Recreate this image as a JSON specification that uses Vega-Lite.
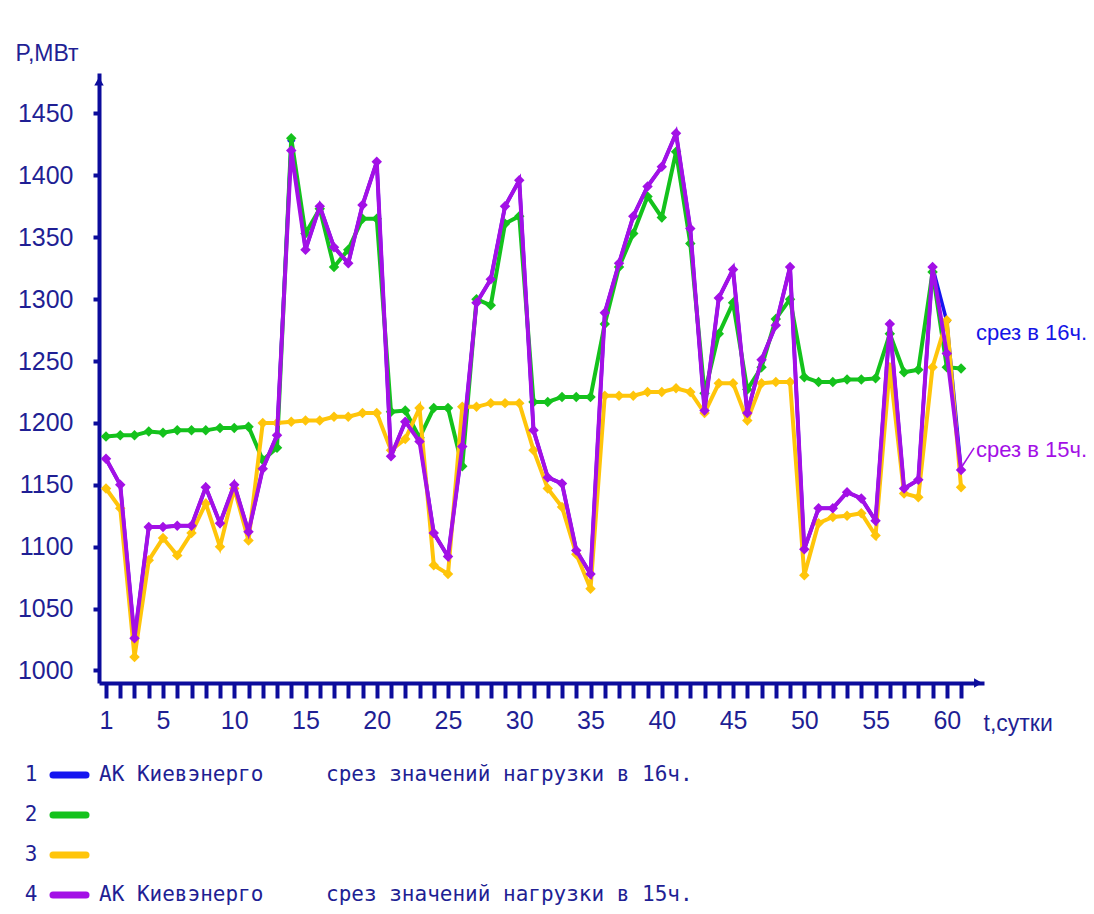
{
  "$schema": "https://vega.github.io/schema/vega-lite/v6.json",
  "background": "white",
  "padding": {"left": 15, "top": 42, "right": 0, "bottom": 0},
  "spacing": 20,
  "config": {
    "view": {"stroke": null},
    "font": "Liberation Sans",
    "axis": {
      "grid": false,
      "domainColor": "#0c0c9c",
      "domainWidth": 4,
      "tickColor": "#0c0c9c",
      "tickWidth": 4,
      "labelColor": "#1f1f94",
      "labelFont": "Liberation Sans",
      "labelFontSize": 25,
      "titleColor": "#1f1f94",
      "titleFont": "Liberation Sans",
      "titleFontSize": 23,
      "titleFontWeight": "normal"
    }
  },
  "datasets": {
    "load": [
      {"day": 1, "s1": 1171, "s2": 1189, "s3": 1147, "s4": 1171},
      {"day": 2, "s1": 1150, "s2": 1190, "s3": 1131, "s4": 1150},
      {"day": 3, "s1": 1026, "s2": 1190, "s3": 1011, "s4": 1026},
      {"day": 4, "s1": 1116, "s2": 1193, "s3": 1089, "s4": 1116},
      {"day": 5, "s1": 1116, "s2": 1192, "s3": 1107, "s4": 1116},
      {"day": 6, "s1": 1117, "s2": 1194, "s3": 1093, "s4": 1117},
      {"day": 7, "s1": 1117, "s2": 1194, "s3": 1111, "s4": 1117},
      {"day": 8, "s1": 1148, "s2": 1194, "s3": 1135, "s4": 1148},
      {"day": 9, "s1": 1119, "s2": 1196, "s3": 1100, "s4": 1119},
      {"day": 10, "s1": 1150, "s2": 1196, "s3": 1147, "s4": 1150},
      {"day": 11, "s1": 1112, "s2": 1197, "s3": 1105, "s4": 1112},
      {"day": 12, "s1": 1163, "s2": 1170, "s3": 1200, "s4": 1163},
      {"day": 13, "s1": 1190, "s2": 1180, "s3": 1200, "s4": 1190},
      {"day": 14, "s1": 1428, "s2": 1430, "s3": 1201, "s4": 1420},
      {"day": 15, "s1": 1340, "s2": 1353, "s3": 1202, "s4": 1340},
      {"day": 16, "s1": 1375, "s2": 1373, "s3": 1202, "s4": 1375},
      {"day": 17, "s1": 1342, "s2": 1326, "s3": 1205, "s4": 1342},
      {"day": 18, "s1": 1329, "s2": 1340, "s3": 1205, "s4": 1329},
      {"day": 19, "s1": 1376, "s2": 1365, "s3": 1208, "s4": 1376},
      {"day": 20, "s1": 1411, "s2": 1365, "s3": 1208, "s4": 1411},
      {"day": 21, "s1": 1173, "s2": 1209, "s3": 1178, "s4": 1173},
      {"day": 22, "s1": 1201, "s2": 1210, "s3": 1187, "s4": 1201},
      {"day": 23, "s1": 1187, "s2": 1188, "s3": 1212, "s4": 1185},
      {"day": 24, "s1": 1111, "s2": 1212, "s3": 1085, "s4": 1111},
      {"day": 25, "s1": 1092, "s2": 1212, "s3": 1078, "s4": 1092},
      {"day": 26, "s1": 1181, "s2": 1165, "s3": 1213, "s4": 1181},
      {"day": 27, "s1": 1297, "s2": 1300, "s3": 1213, "s4": 1297},
      {"day": 28, "s1": 1316, "s2": 1295, "s3": 1216, "s4": 1316},
      {"day": 29, "s1": 1375, "s2": 1361, "s3": 1216, "s4": 1375},
      {"day": 30, "s1": 1396, "s2": 1367, "s3": 1216, "s4": 1396},
      {"day": 31, "s1": 1194, "s2": 1217, "s3": 1178, "s4": 1194},
      {"day": 32, "s1": 1156, "s2": 1217, "s3": 1147, "s4": 1156},
      {"day": 33, "s1": 1151, "s2": 1221, "s3": 1132, "s4": 1151},
      {"day": 34, "s1": 1097, "s2": 1221, "s3": 1094, "s4": 1097},
      {"day": 35, "s1": 1078, "s2": 1221, "s3": 1066, "s4": 1078},
      {"day": 36, "s1": 1289, "s2": 1280, "s3": 1222, "s4": 1289},
      {"day": 37, "s1": 1329, "s2": 1326, "s3": 1222, "s4": 1329},
      {"day": 38, "s1": 1367, "s2": 1353, "s3": 1222, "s4": 1367},
      {"day": 39, "s1": 1391, "s2": 1383, "s3": 1225, "s4": 1391},
      {"day": 40, "s1": 1407, "s2": 1366, "s3": 1225, "s4": 1407},
      {"day": 41, "s1": 1434, "s2": 1419, "s3": 1228, "s4": 1434},
      {"day": 42, "s1": 1357, "s2": 1345, "s3": 1225, "s4": 1357},
      {"day": 43, "s1": 1210, "s2": 1224, "s3": 1208, "s4": 1210},
      {"day": 44, "s1": 1301, "s2": 1272, "s3": 1232, "s4": 1301},
      {"day": 45, "s1": 1324, "s2": 1297, "s3": 1232, "s4": 1324},
      {"day": 46, "s1": 1208, "s2": 1227, "s3": 1202, "s4": 1208},
      {"day": 47, "s1": 1251, "s2": 1245, "s3": 1232, "s4": 1251},
      {"day": 48, "s1": 1279, "s2": 1284, "s3": 1233, "s4": 1279},
      {"day": 49, "s1": 1326, "s2": 1300, "s3": 1233, "s4": 1326},
      {"day": 50, "s1": 1098, "s2": 1237, "s3": 1077, "s4": 1098},
      {"day": 51, "s1": 1131, "s2": 1233, "s3": 1119, "s4": 1131},
      {"day": 52, "s1": 1131, "s2": 1233, "s3": 1124, "s4": 1131},
      {"day": 53, "s1": 1144, "s2": 1235, "s3": 1125, "s4": 1144},
      {"day": 54, "s1": 1139, "s2": 1235, "s3": 1127, "s4": 1139},
      {"day": 55, "s1": 1121, "s2": 1236, "s3": 1109, "s4": 1121},
      {"day": 56, "s1": 1280, "s2": 1272, "s3": 1245, "s4": 1280},
      {"day": 57, "s1": 1147, "s2": 1241, "s3": 1143, "s4": 1147},
      {"day": 58, "s1": 1154, "s2": 1243, "s3": 1140, "s4": 1154},
      {"day": 59, "s1": 1326, "s2": 1322, "s3": 1245, "s4": 1326},
      {"day": 60, "s1": 1282, "s2": 1245, "s3": 1283, "s4": 1256},
      {"day": 61, "s1": 1162, "s2": 1244, "s3": 1148, "s4": 1162}
    ],
    "notes": [
      {"t": "срез в 16ч.", "series": "s1"},
      {"t": "срез в 15ч.", "series": "s4"}
    ]
  },
  "vconcat": [
    {
      "width": 885,
      "height": 610,
      "layer": [
        {
          "data": {"name": "load"},
          "transform": [{"fold": ["s1", "s2", "s3", "s4"], "as": ["series", "mw"]}, {"filter": "datum.series === 's1'"}],
          "mark": {"type": "line", "strokeWidth": 3.5, "point": {"shape": "diamond", "filled": true, "size": 70, "opacity": 1}},
          "encoding": {
            "x": {"field": "day", "type": "quantitative", "scale": {"domain": [0.509, 62.61], "nice": false, "zero": false}, "axis": {"values": [1,2,3,4,5,6,7,8,9,10,11,12,13,14,15,16,17,18,19,20,21,22,23,24,25,26,27,28,29,30,31,32,33,34,35,36,37,38,39,40,41,42,43,44,45,46,47,48,49,50,51,52,53,54,55,56,57,58,59,60,61], "labelExpr": "datum.value == 1 || datum.value % 5 == 0 ? datum.label : ''", "labelFlush": false, "labelOverlap": false, "tickSize": 15, "labelPadding": 10, "title": "t,сутки", "titleX": 884, "titleY": 40, "titleAlign": "left", "titleBaseline": "middle"}},
            "y": {"field": "mw", "type": "quantitative", "scale": {"domain": [989.9, 1482.7], "nice": false, "zero": false}, "axis": {"values": [1000, 1050, 1100, 1150, 1200, 1250, 1300, 1350, 1400, 1450], "format": "d", "tickSize": 6, "labelPadding": 20, "title": "P,МВт", "titleAngle": 0, "titleX": -84, "titleY": -20, "titleAlign": "left", "titleBaseline": "middle"}},
            "color": {"field": "series", "type": "nominal", "scale": {"domain": ["s1", "s2", "s3", "s4"], "range": ["#1515f0", "#14c21c", "#ffc50a", "#a310e6"]}, "legend": null}
          }
        },
        {
          "data": {"name": "load"},
          "transform": [{"fold": ["s1", "s2", "s3", "s4"], "as": ["series", "mw"]}, {"filter": "datum.series === 's2'"}],
          "mark": {"type": "line", "strokeWidth": 4, "point": {"shape": "diamond", "filled": true, "size": 110, "opacity": 1}},
          "encoding": {
            "x": {"field": "day", "type": "quantitative", "scale": {"domain": [0.509, 62.61], "nice": false, "zero": false}, "axis": {"values": [1,2,3,4,5,6,7,8,9,10,11,12,13,14,15,16,17,18,19,20,21,22,23,24,25,26,27,28,29,30,31,32,33,34,35,36,37,38,39,40,41,42,43,44,45,46,47,48,49,50,51,52,53,54,55,56,57,58,59,60,61], "labelExpr": "datum.value == 1 || datum.value % 5 == 0 ? datum.label : ''", "labelFlush": false, "labelOverlap": false, "tickSize": 15, "labelPadding": 10, "title": "t,сутки", "titleX": 884, "titleY": 40, "titleAlign": "left", "titleBaseline": "middle"}},
            "y": {"field": "mw", "type": "quantitative", "scale": {"domain": [989.9, 1482.7], "nice": false, "zero": false}, "axis": {"values": [1000, 1050, 1100, 1150, 1200, 1250, 1300, 1350, 1400, 1450], "format": "d", "tickSize": 6, "labelPadding": 20, "title": "P,МВт", "titleAngle": 0, "titleX": -84, "titleY": -20, "titleAlign": "left", "titleBaseline": "middle"}},
            "color": {"field": "series", "type": "nominal", "scale": {"domain": ["s1", "s2", "s3", "s4"], "range": ["#1515f0", "#14c21c", "#ffc50a", "#a310e6"]}, "legend": null}
          }
        },
        {
          "data": {"name": "load"},
          "transform": [{"fold": ["s1", "s2", "s3", "s4"], "as": ["series", "mw"]}, {"filter": "datum.series === 's3'"}],
          "mark": {"type": "line", "strokeWidth": 4, "point": {"shape": "diamond", "filled": true, "size": 110, "opacity": 1}},
          "encoding": {
            "x": {"field": "day", "type": "quantitative", "scale": {"domain": [0.509, 62.61], "nice": false, "zero": false}, "axis": {"values": [1,2,3,4,5,6,7,8,9,10,11,12,13,14,15,16,17,18,19,20,21,22,23,24,25,26,27,28,29,30,31,32,33,34,35,36,37,38,39,40,41,42,43,44,45,46,47,48,49,50,51,52,53,54,55,56,57,58,59,60,61], "labelExpr": "datum.value == 1 || datum.value % 5 == 0 ? datum.label : ''", "labelFlush": false, "labelOverlap": false, "tickSize": 15, "labelPadding": 10, "title": "t,сутки", "titleX": 884, "titleY": 40, "titleAlign": "left", "titleBaseline": "middle"}},
            "y": {"field": "mw", "type": "quantitative", "scale": {"domain": [989.9, 1482.7], "nice": false, "zero": false}, "axis": {"values": [1000, 1050, 1100, 1150, 1200, 1250, 1300, 1350, 1400, 1450], "format": "d", "tickSize": 6, "labelPadding": 20, "title": "P,МВт", "titleAngle": 0, "titleX": -84, "titleY": -20, "titleAlign": "left", "titleBaseline": "middle"}},
            "color": {"field": "series", "type": "nominal", "scale": {"domain": ["s1", "s2", "s3", "s4"], "range": ["#1515f0", "#14c21c", "#ffc50a", "#a310e6"]}, "legend": null}
          }
        },
        {
          "data": {"name": "load"},
          "transform": [{"fold": ["s1", "s2", "s3", "s4"], "as": ["series", "mw"]}, {"filter": "datum.series === 's4'"}],
          "mark": {"type": "line", "strokeWidth": 4, "point": {"shape": "diamond", "filled": true, "size": 110, "opacity": 1}},
          "encoding": {
            "x": {"field": "day", "type": "quantitative", "scale": {"domain": [0.509, 62.61], "nice": false, "zero": false}, "axis": {"values": [1,2,3,4,5,6,7,8,9,10,11,12,13,14,15,16,17,18,19,20,21,22,23,24,25,26,27,28,29,30,31,32,33,34,35,36,37,38,39,40,41,42,43,44,45,46,47,48,49,50,51,52,53,54,55,56,57,58,59,60,61], "labelExpr": "datum.value == 1 || datum.value % 5 == 0 ? datum.label : ''", "labelFlush": false, "labelOverlap": false, "tickSize": 15, "labelPadding": 10, "title": "t,сутки", "titleX": 884, "titleY": 40, "titleAlign": "left", "titleBaseline": "middle"}},
            "y": {"field": "mw", "type": "quantitative", "scale": {"domain": [989.9, 1482.7], "nice": false, "zero": false}, "axis": {"values": [1000, 1050, 1100, 1150, 1200, 1250, 1300, 1350, 1400, 1450], "format": "d", "tickSize": 6, "labelPadding": 20, "title": "P,МВт", "titleAngle": 0, "titleX": -84, "titleY": -20, "titleAlign": "left", "titleBaseline": "middle"}},
            "color": {"field": "series", "type": "nominal", "scale": {"domain": ["s1", "s2", "s3", "s4"], "range": ["#1515f0", "#14c21c", "#ffc50a", "#a310e6"]}, "legend": null}
          }
        },
        {
          "data": {"name": "notes"},
          "transform": [{"filter": "datum.series === 's1'"}],
          "mark": {"type": "point", "shape": "triangle-up", "filled": true, "size": 90, "opacity": 1, "color": "#0c0c9c"},
          "encoding": {
            "x": {"datum": 0.509, "type": "quantitative", "scale": {"domain": [0.509, 62.61], "nice": false, "zero": false}, "axis": {"values": [1,2,3,4,5,6,7,8,9,10,11,12,13,14,15,16,17,18,19,20,21,22,23,24,25,26,27,28,29,30,31,32,33,34,35,36,37,38,39,40,41,42,43,44,45,46,47,48,49,50,51,52,53,54,55,56,57,58,59,60,61], "labelExpr": "datum.value == 1 || datum.value % 5 == 0 ? datum.label : ''", "labelFlush": false, "labelOverlap": false, "tickSize": 15, "labelPadding": 10, "title": "t,сутки", "titleX": 884, "titleY": 40, "titleAlign": "left", "titleBaseline": "middle"}},
            "y": {"datum": 1476, "type": "quantitative", "scale": {"domain": [989.9, 1482.7], "nice": false, "zero": false}, "axis": {"values": [1000, 1050, 1100, 1150, 1200, 1250, 1300, 1350, 1400, 1450], "format": "d", "tickSize": 6, "labelPadding": 20, "title": "P,МВт", "titleAngle": 0, "titleX": -84, "titleY": -20, "titleAlign": "left", "titleBaseline": "middle"}}
          }
        },
        {
          "data": {"name": "notes"},
          "transform": [{"filter": "datum.series === 's1'"}],
          "mark": {"type": "point", "shape": "triangle-right", "filled": true, "size": 90, "opacity": 1, "color": "#0c0c9c"},
          "encoding": {
            "x": {"datum": 62.2, "type": "quantitative", "scale": {"domain": [0.509, 62.61], "nice": false, "zero": false}, "axis": {"values": [1,2,3,4,5,6,7,8,9,10,11,12,13,14,15,16,17,18,19,20,21,22,23,24,25,26,27,28,29,30,31,32,33,34,35,36,37,38,39,40,41,42,43,44,45,46,47,48,49,50,51,52,53,54,55,56,57,58,59,60,61], "labelExpr": "datum.value == 1 || datum.value % 5 == 0 ? datum.label : ''", "labelFlush": false, "labelOverlap": false, "tickSize": 15, "labelPadding": 10, "title": "t,сутки", "titleX": 884, "titleY": 40, "titleAlign": "left", "titleBaseline": "middle"}},
            "y": {"datum": 989.9, "type": "quantitative", "scale": {"domain": [989.9, 1482.7], "nice": false, "zero": false}, "axis": {"values": [1000, 1050, 1100, 1150, 1200, 1250, 1300, 1350, 1400, 1450], "format": "d", "tickSize": 6, "labelPadding": 20, "title": "P,МВт", "titleAngle": 0, "titleX": -84, "titleY": -20, "titleAlign": "left", "titleBaseline": "middle"}}
          }
        },
        {
          "data": {"name": "notes"},
          "transform": [{"filter": "datum.series === 's1'"}],
          "mark": {"type": "text", "align": "left", "baseline": "middle", "fontSize": 22, "font": "Liberation Sans", "color": "#1515e6"},
          "encoding": {
            "x": {"datum": 62.05, "type": "quantitative", "scale": {"domain": [0.509, 62.61], "nice": false, "zero": false}, "axis": {"values": [1,2,3,4,5,6,7,8,9,10,11,12,13,14,15,16,17,18,19,20,21,22,23,24,25,26,27,28,29,30,31,32,33,34,35,36,37,38,39,40,41,42,43,44,45,46,47,48,49,50,51,52,53,54,55,56,57,58,59,60,61], "labelExpr": "datum.value == 1 || datum.value % 5 == 0 ? datum.label : ''", "labelFlush": false, "labelOverlap": false, "tickSize": 15, "labelPadding": 10, "title": "t,сутки", "titleX": 884, "titleY": 40, "titleAlign": "left", "titleBaseline": "middle"}},
            "y": {"datum": 1272.7, "type": "quantitative", "scale": {"domain": [989.9, 1482.7], "nice": false, "zero": false}, "axis": {"values": [1000, 1050, 1100, 1150, 1200, 1250, 1300, 1350, 1400, 1450], "format": "d", "tickSize": 6, "labelPadding": 20, "title": "P,МВт", "titleAngle": 0, "titleX": -84, "titleY": -20, "titleAlign": "left", "titleBaseline": "middle"}},
            "text": {"field": "t", "type": "nominal"}
          }
        },
        {
          "data": {"name": "notes"},
          "transform": [{"filter": "datum.series === 's4'"}],
          "mark": {"type": "text", "align": "left", "baseline": "middle", "fontSize": 22, "font": "Liberation Sans", "color": "#a310e6"},
          "encoding": {
            "x": {"datum": 62.05, "type": "quantitative", "scale": {"domain": [0.509, 62.61], "nice": false, "zero": false}, "axis": {"values": [1,2,3,4,5,6,7,8,9,10,11,12,13,14,15,16,17,18,19,20,21,22,23,24,25,26,27,28,29,30,31,32,33,34,35,36,37,38,39,40,41,42,43,44,45,46,47,48,49,50,51,52,53,54,55,56,57,58,59,60,61], "labelExpr": "datum.value == 1 || datum.value % 5 == 0 ? datum.label : ''", "labelFlush": false, "labelOverlap": false, "tickSize": 15, "labelPadding": 10, "title": "t,сутки", "titleX": 884, "titleY": 40, "titleAlign": "left", "titleBaseline": "middle"}},
            "y": {"datum": 1178.1, "type": "quantitative", "scale": {"domain": [989.9, 1482.7], "nice": false, "zero": false}, "axis": {"values": [1000, 1050, 1100, 1150, 1200, 1250, 1300, 1350, 1400, 1450], "format": "d", "tickSize": 6, "labelPadding": 20, "title": "P,МВт", "titleAngle": 0, "titleX": -84, "titleY": -20, "titleAlign": "left", "titleBaseline": "middle"}},
            "text": {"field": "t", "type": "nominal"}
          }
        },
        {
          "data": {"name": "notes"},
          "transform": [{"filter": "datum.series === 's4'"}],
          "mark": {"type": "rule", "strokeWidth": 1.5, "color": "#a310e6"},
          "encoding": {
            "x": {"datum": 61.0, "type": "quantitative", "scale": {"domain": [0.509, 62.61], "nice": false, "zero": false}, "axis": {"values": [1,2,3,4,5,6,7,8,9,10,11,12,13,14,15,16,17,18,19,20,21,22,23,24,25,26,27,28,29,30,31,32,33,34,35,36,37,38,39,40,41,42,43,44,45,46,47,48,49,50,51,52,53,54,55,56,57,58,59,60,61], "labelExpr": "datum.value == 1 || datum.value % 5 == 0 ? datum.label : ''", "labelFlush": false, "labelOverlap": false, "tickSize": 15, "labelPadding": 10, "title": "t,сутки", "titleX": 884, "titleY": 40, "titleAlign": "left", "titleBaseline": "middle"}},
            "y": {"datum": 1163.6, "type": "quantitative", "scale": {"domain": [989.9, 1482.7], "nice": false, "zero": false}, "axis": {"values": [1000, 1050, 1100, 1150, 1200, 1250, 1300, 1350, 1400, 1450], "format": "d", "tickSize": 6, "labelPadding": 20, "title": "P,МВт", "titleAngle": 0, "titleX": -84, "titleY": -20, "titleAlign": "left", "titleBaseline": "middle"}},
            "x2": {"datum": 61.91},
            "y2": {"datum": 1179.8}
          }
        }
      ]
    },
    {
      "width": 600,
      "height": 160,
      "data": {
        "values": [
          {"n": "1", "series": "s1", "name": "АК Киевэнерго", "desc": "срез значений нагрузки в 16ч."},
          {"n": "2", "series": "s2", "name": "", "desc": ""},
          {"n": "3", "series": "s3", "name": "", "desc": ""},
          {"n": "4", "series": "s4", "name": "АК Киевэнерго", "desc": "срез значений нагрузки в 15ч."}
        ]
      },
      "layer": [
        {
          "mark": {"type": "text", "align": "center", "baseline": "middle", "font": "DejaVu Sans Mono", "fontSize": 21, "color": "#1f1f94"},
          "encoding": {
            "y": {"field": "n", "type": "ordinal", "scale": {"type": "point", "padding": 0.5}, "axis": null},
            "x": {"datum": 30, "type": "quantitative", "scale": {"domain": [98, 698], "nice": false, "zero": false}, "axis": null},
            "text": {"field": "n"}
          }
        },
        {
          "mark": {"type": "rule", "strokeWidth": 7, "strokeCap": "round"},
          "encoding": {
            "y": {"field": "n", "type": "ordinal", "scale": {"type": "point", "padding": 0.5}, "axis": null},
            "x": {"datum": 52, "type": "quantitative", "scale": {"domain": [98, 698], "nice": false, "zero": false}, "axis": null},
            "x2": {"datum": 85},
            "color": {"field": "series", "type": "nominal", "scale": {"domain": ["s1", "s2", "s3", "s4"], "range": ["#1515f0", "#14c21c", "#ffc50a", "#a310e6"]}, "legend": null}
          }
        },
        {
          "mark": {"type": "text", "align": "left", "baseline": "middle", "font": "DejaVu Sans Mono", "fontSize": 21, "color": "#1f1f94"},
          "encoding": {
            "y": {"field": "n", "type": "ordinal", "scale": {"type": "point", "padding": 0.5}, "axis": null},
            "x": {"datum": 98, "type": "quantitative", "scale": {"domain": [98, 698], "nice": false, "zero": false}, "axis": null},
            "text": {"field": "name"}
          }
        },
        {
          "mark": {"type": "text", "align": "left", "baseline": "middle", "font": "DejaVu Sans Mono", "fontSize": 21, "color": "#1f1f94"},
          "encoding": {
            "y": {"field": "n", "type": "ordinal", "scale": {"type": "point", "padding": 0.5}, "axis": null},
            "x": {"datum": 325, "type": "quantitative", "scale": {"domain": [98, 698], "nice": false, "zero": false}, "axis": null},
            "text": {"field": "desc"}
          }
        }
      ]
    }
  ]
}
